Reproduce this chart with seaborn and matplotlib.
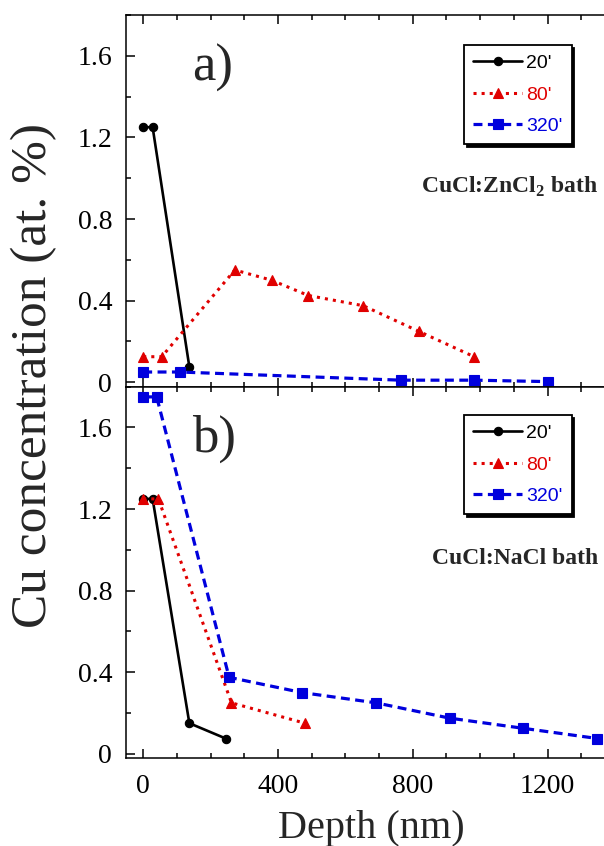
import matplotlib
matplotlib.use("Agg")
import matplotlib.pyplot as plt
import seaborn as sns
from matplotlib.ticker import MultipleLocator, FuncFormatter

# ---- data ----
# panel a) CuCl:ZnCl2 bath
a_x_20 = [0, 28, 137]
a_y_20 = [1.25, 1.25, 0.075]
a_x_80 = [0, 55, 272, 381, 490, 653, 817, 982]
a_y_80 = [0.125, 0.125, 0.55, 0.50, 0.425, 0.375, 0.25, 0.125]
a_x_320 = [0, 109, 764, 982, 1200]
a_y_320 = [0.05, 0.05, 0.01, 0.01, 0.003]

# panel b) CuCl:NaCl bath
b_x_20 = [0, 28, 137, 245]
b_y_20 = [1.25, 1.25, 0.15, 0.075]
b_x_80 = [0, 45, 262, 480]
b_y_80 = [1.25, 1.25, 0.25, 0.15]
b_x_320 = [0, 40, 255, 472, 691, 909, 1128, 1348]
b_y_320 = [1.75, 1.75, 0.375, 0.30, 0.25, 0.175, 0.125, 0.075]

series_labels = ["20'", "80'", "320'"]
panel_tags = ["a)", "b)"]
bath_labels = [r"CuCl:ZnCl$_\mathbf{2}$ bath", "CuCl:NaCl bath"]

sns.set_theme(style="ticks")
plt.rcParams["font.family"] = ["Liberation Serif", "DejaVu Serif"]
plt.rcParams["mathtext.fontset"] = "custom"
plt.rcParams["mathtext.rm"] = "Liberation Serif:bold"
plt.rcParams["mathtext.bf"] = "Liberation Serif:bold"
plt.rcParams["axes.linewidth"] = 1.1

BLACK, RED, BLUE = "black", "#e00000", "#0000dd"
DASH = (2.8, 1.7)

fig = plt.figure(figsize=(6.04, 8.46), dpi=100)
W, H = 604, 846
left, right = 126, 615
ax_a = fig.add_axes([left / W, 1 - 386.7 / H, (right - left) / W, 371.7 / H])
ax_b = fig.add_axes([left / W, 1 - 758.3 / H, (right - left) / W, 371.6 / H])


def draw_panel(ax, xs, ys):
    styles = [
        dict(color=BLACK, marker="o", linestyle="-", lw=1.9, markersize=6),
        dict(color=RED, marker="^", linestyle=":", lw=2.2, markersize=7),
        dict(color=BLUE, marker="s", linestyle="--", lw=2.3, markersize=6.5),
    ]
    for x, y, lab, st in zip(xs, ys, series_labels, styles):
        sns.lineplot(x=x, y=y, ax=ax, label=lab, mec=st["color"], mew=0.8, **st)
        if st["linestyle"] == "--":
            ax.lines[-1].set_dashes(DASH)

    ax.set_xlim(-51, 1400)
    ax.set_ylim(-0.022, 1.8)
    ax.xaxis.set_major_locator(MultipleLocator(400))
    ax.xaxis.set_minor_locator(MultipleLocator(100))
    ax.yaxis.set_major_locator(MultipleLocator(0.4))
    ax.yaxis.set_minor_locator(MultipleLocator(0.2))
    ax.yaxis.set_major_formatter(FuncFormatter(lambda v, p: "0" if abs(v) < 1e-9 else f"{v:.1f}"))
    ax.tick_params(which="both", direction="in", top=True, right=False, width=1.1,
                   colors="black", labelsize=20)
    ax.tick_params(which="major", length=6.5)
    ax.tick_params(which="minor", length=3.6)
    ax.tick_params(axis="y", pad=10)
    ax.tick_params(axis="x", pad=11)
    for s in ax.spines.values():
        s.set_color("black")
    ax.set_xlabel("")
    ax.set_ylabel("")


draw_panel(ax_a, [a_x_20, a_x_80, a_x_320], [a_y_20, a_y_80, a_y_320])
draw_panel(ax_b, [b_x_20, b_x_80, b_x_320], [b_y_20, b_y_80, b_y_320])
ax_a.tick_params(axis="x", labelbottom=False)

for ax, tag, bath, leg_top in zip([ax_a, ax_b], panel_tags, bath_labels, [45, 415]):
    ax.text(145, 1.48, tag, fontsize=38, ha="left", va="baseline")
    ax.text(1350, 0.93, bath, fontsize=17, fontweight="bold", ha="right", va="baseline")
    leg = ax.legend(loc="upper right", bbox_to_anchor=(571.7 / W, 1 - leg_top / H),
                    bbox_transform=fig.transFigure, borderaxespad=0, numpoints=1,
                    fancybox=False, shadow={"color": "black", "alpha": 1},
                    prop={"family": "Liberation Sans", "size": 14},
                    handlelength=2.5, handletextpad=0.2, labelspacing=0.72,
                    borderpad=0.48, framealpha=1)
    leg.get_frame().set_edgecolor("black")
    leg.get_frame().set_linewidth(1.3)
    for txt, c in zip(leg.get_texts(), [BLACK, RED, BLUE]):
        txt.set_color(c)
    leg.get_lines()[2].set_dashes(DASH)

fig.text(33.5 / W, 1 - 375 / H, "Cu concentration (at. %)", rotation=90,
         fontsize=37, ha="center", va="center")
fig.text(371 / W, 1 - 828 / H, "Depth (nm)", fontsize=29, ha="center", va="center")

fig.savefig("out.png", dpi=100)
